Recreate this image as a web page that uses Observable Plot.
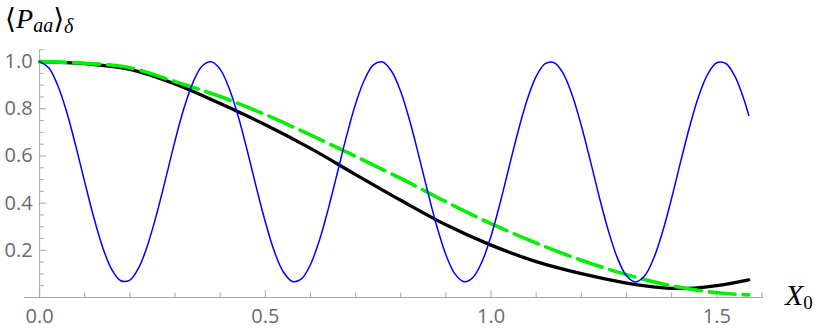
<!DOCTYPE html>
<html><head><meta charset="utf-8">
<script src="https://cdn.jsdelivr.net/npm/d3@7"></script>
<script src="https://cdn.jsdelivr.net/npm/@observablehq/plot@0.6"></script>
<style>
  body { margin: 0; background: #fff; }
  #chart svg { display: block; }
</style>
</head><body><div id="chart"></div>
<script>
// ---- data ----
const blueX = [0,0.02,0.04,0.06,0.08,0.10,0.12,0.14,0.16,0.18,0.20,0.22,0.24,0.26,0.28,0.30,0.32,0.34,0.36,0.38,
  0.40,0.42,0.44,0.46,0.48,0.50,0.52,0.54,0.56,0.58,0.60,0.62,0.64,0.66,0.68,0.70,0.72,0.74,0.76,0.78,
  0.80,0.82,0.84,0.86,0.88,0.90,0.92,0.94,0.96,0.98,1.00,1.02,1.04,1.06,1.08,1.10,1.12,1.14,1.16,1.18,
  1.20,1.22,1.24,1.26,1.28,1.30,1.32,1.34,1.36,1.38,1.40,1.42,1.44,1.46,1.48,1.50,1.52,1.54,1.56,1.5708];
const blueY = [1.000,0.974,0.900,0.786,0.643,0.489,0.339,0.211,0.118,0.071,0.074,0.128,0.227,0.359,0.510,0.665,0.804,0.913,0.981,0.999,
  0.967,0.886,0.767,0.622,0.467,0.320,0.195,0.108,0.068,0.079,0.140,0.244,0.380,0.532,0.685,0.821,0.925,0.987,0.998,0.958,
  0.872,0.748,0.600,0.446,0.301,0.181,0.100,0.067,0.085,0.152,0.261,0.400,0.554,0.705,0.838,0.937,0.991,0.995,0.949,0.856,
  0.728,0.579,0.424,0.282,0.167,0.092,0.066,0.091,0.165,0.279,0.421,0.576,0.725,0.854,0.947,0.995,0.992,0.938,0.840,0.772];

const blackX = [0,0.1,0.2,0.3,0.4,0.5,0.6,0.7,0.8,0.9,1.0,1.1,1.2,1.3,1.35,1.4,1.45,1.5,1.5708];
const blackY = [1.000,0.991,0.967,0.905,0.822,0.732,0.632,0.521,0.412,0.308,0.222,0.152,0.101,0.061,0.047,0.039,0.040,0.050,0.075];

const greenX = [0,0.1,0.2,0.3,0.4,0.5,0.6,0.7,0.8,0.9,1.0,1.1,1.2,1.3,1.4,1.5,1.5708];
const greenY = [1.000,0.993,0.974,0.915,0.852,0.775,0.689,0.598,0.505,0.406,0.313,0.231,0.158,0.097,0.050,0.020,0.011];

const xMajor = [0, 0.5, 1.0, 1.5];
const xMinor = [0.1,0.2,0.3,0.4,0.6,0.7,0.8,0.9,1.1,1.2,1.3,1.4,1.6];
const yMajor = [0.2, 0.4, 0.6, 0.8, 1.0];
const yMinor = [0.05,0.1,0.15,0.25,0.3,0.35,0.45,0.5,0.55,0.65,0.7,0.75,0.85,0.9,0.95,1.05];

const toRows = (xs, ys) => xs.map((x, i) => ({x, y: ys[i]}));
const blue = toRows(blueX, blueY);
const black = toRows(blackX, blackY);
const green = toRows(greenX, greenY);

const axisColor = "#a6a6a6";
const labelColor = "#6b6b6b";

const chart = Plot.plot({
  width: 822, height: 336,
  marginLeft: 24, marginRight: 59, marginTop: 50, marginBottom: 39,
  x: {domain: [-0.0335, 1.6035], axis: null},
  y: {domain: [0, 1.047], axis: null},
  style: {fontFamily: "'Open Sans', sans-serif", background: "white", overflow: "visible"},
  marks: [
    Plot.ruleY([0], {stroke: axisColor, strokeWidth: 1}),
    Plot.ruleX([0], {stroke: axisColor, strokeWidth: 1}),
    Plot.ruleX(xMinor, {x: d => d, y1: 0, y2: 0, insetTop: -4.5, stroke: axisColor}),
    Plot.ruleX(xMajor, {x: d => d, y1: 0, y2: 0, insetTop: -7, stroke: axisColor}),
    Plot.ruleY(yMinor, {y: d => d, x1: 0, x2: 0, insetRight: -4.5, stroke: axisColor}),
    Plot.ruleY(yMajor, {y: d => d, x1: 0, x2: 0, insetRight: -7, stroke: axisColor}),
    Plot.text(xMajor, {x: d => d, y: 0, text: d => d.toFixed(1), dy: 19, fill: labelColor, fontSize: 20}),
    Plot.text(yMajor, {x: 0, y: d => d, text: d => d.toFixed(1), textAnchor: "end", dx: -7, fill: labelColor, fontSize: 20}),
    Plot.line(black, {x: "x", y: "y", stroke: "#000000", strokeWidth: 3.3, curve: "catmull-rom"}),
    Plot.line(green, {x: "x", y: "y", stroke: "#00ee00", strokeWidth: 3.6, strokeDasharray: "26,8", curve: "catmull-rom"}),
    Plot.line(blue, {x: "x", y: "y", stroke: "#0000ff", strokeWidth: 1.5, curve: "catmull-rom"})
  ]
});

document.getElementById("chart").appendChild(chart);

// axis labels (math-style) positioned from the scales
const sx = chart.scale("x"), sy = chart.scale("y");
const svg = d3.select(chart);
const serif = "'Liberation Serif', 'DejaVu Serif', serif";

const yl = svg.append("text")
  .attr("x", sx.apply(0) - 34)
  .attr("y", sy.apply(1.047) - 22)
  .attr("text-anchor", "start")
  .attr("font-family", serif)
  .attr("font-size", 28)
  .attr("fill", "#000");
yl.append("tspan").text("\u27E8");
yl.append("tspan").attr("font-style", "italic").text("P");
yl.append("tspan").attr("font-style", "italic").attr("font-size", 20).attr("dy", 4).text("aa");
yl.append("tspan").attr("dy", -4).text("\u27E9");
yl.append("tspan").attr("font-style", "italic").attr("font-size", 20).attr("dy", 5).text("\u03B4");

const xl = svg.append("text")
  .attr("x", sx.apply(1.6035) + 22)
  .attr("y", sy.apply(0) + 8)
  .attr("text-anchor", "start")
  .attr("font-family", serif)
  .attr("font-size", 30)
  .attr("fill", "#000");
xl.append("tspan").attr("font-style", "italic").text("X");
xl.append("tspan").attr("font-size", 19).attr("dy", 4).text("0");
</script>
</body></html>
